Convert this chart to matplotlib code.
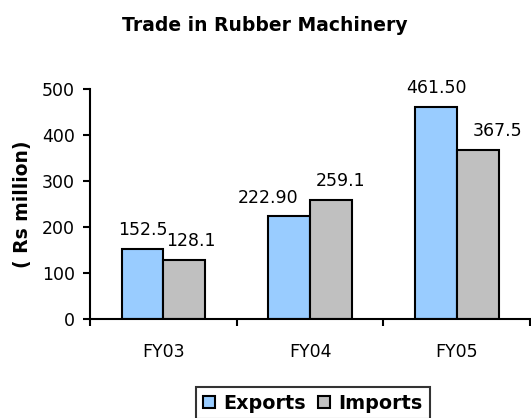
import matplotlib.pyplot as plt
import numpy as np

years = ['FY03', 'FY04', 'FY05']
exports = [152.5, 222.90, 461.50]
imports = [128.1, 259.1, 367.5]
export_labels = ['152.5', '222.90', '461.50']
import_labels = ['128.1', '259.1', '367.5']

# label nudges in points, like the excel original
exp_dx = [0, -15, 0]
imp_dx = [5, 7, 14]

fig = plt.figure(figsize=(5.31, 4.18), dpi=100)
ax = fig.add_axes([0.1695, 0.237, 0.829, 0.55])

x = np.arange(len(years))
w = 0.284
ax.bar(x - w / 2, exports, w, color='#99ccff', edgecolor='black', linewidth=1.5, label='Exports')
ax.bar(x + w / 2, imports, w, color='#c0c0c0', edgecolor='black', linewidth=1.5, label='Imports')

for xi, v, s, dx in zip(x, exports, export_labels, exp_dx):
    ax.annotate(s, (xi - w / 2, v), xytext=(dx, 7), textcoords='offset points',
                ha='center', va='bottom', fontsize=12.5)
for xi, v, s, dx in zip(x, imports, import_labels, imp_dx):
    ax.annotate(s, (xi + w / 2, v), xytext=(dx, 7), textcoords='offset points',
                ha='center', va='bottom', fontsize=12.5)

ax.set_xlim(-0.5, 2.5)
ax.set_ylim(0, 500)
ax.set_yticks(range(0, 501, 100))
ax.set_xticks([-0.5, 0.5, 1.5, 2.5])
ax.set_xticklabels([])
ax.set_xticks(x, minor=True)
ax.set_xticklabels(years, minor=True)
ax.tick_params(axis='x', which='minor', length=0, pad=17, labelsize=12.5)
ax.tick_params(axis='x', which='major', length=5, width=1.5, direction='out')
ax.tick_params(axis='y', length=5, width=1.5, labelsize=12.5, pad=6)
ax.spines['top'].set_visible(False)
ax.spines['right'].set_visible(False)
ax.spines['left'].set_linewidth(1.5)
ax.spines['bottom'].set_linewidth(1.5)

ax.set_ylabel('( Rs million)', fontsize=13.5, fontweight='bold')
ax.yaxis.set_label_coords(-0.132, 0.5)
fig.text(0.498, 0.938, 'Trade in Rubber Machinery', fontsize=13.5, fontweight='bold',
         ha='center', va='center')

leg = fig.legend(loc='upper center', bbox_to_anchor=(0.589, 0.074), ncol=2, frameon=True,
                 fancybox=False, edgecolor='black', handlelength=0.63, handleheight=0.63,
                 handletextpad=0.47, columnspacing=0.6, borderpad=0.35, borderaxespad=0,
                 prop={'weight': 'bold', 'size': 13.75})
leg.get_frame().set_linewidth(1.5)

fig.savefig('out.png', dpi=100)
